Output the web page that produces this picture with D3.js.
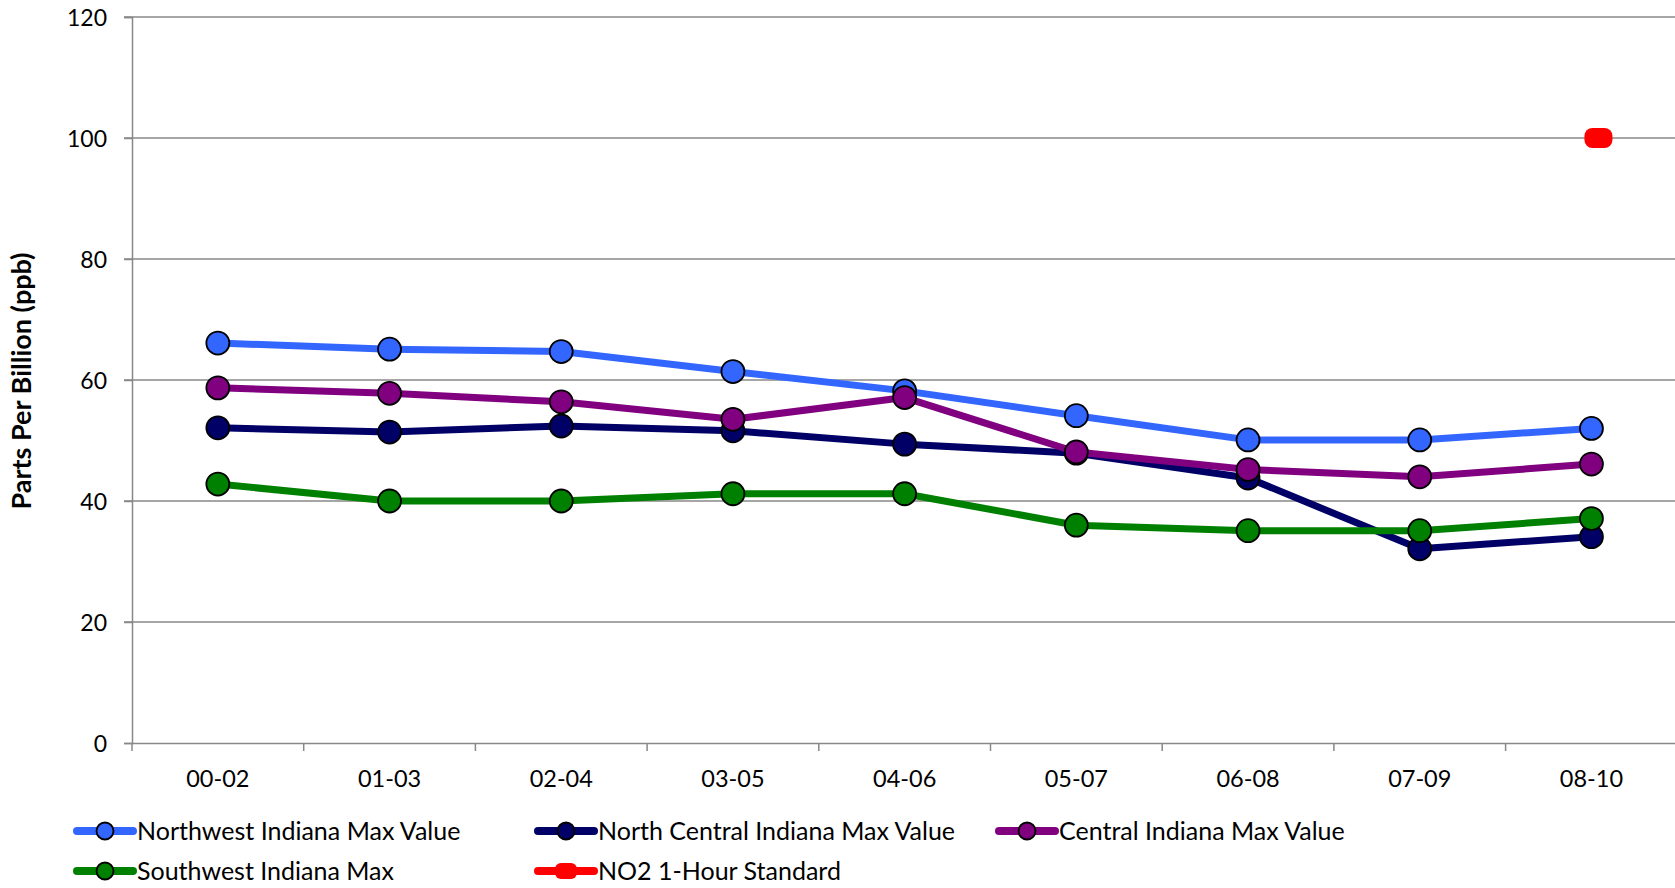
<!DOCTYPE html>
<html>
<head>
<meta charset="utf-8">
<script src="https://cdn.jsdelivr.net/npm/d3@7"></script>
<style>
  html, body { margin: 0; padding: 0; background: #fff; }
  svg { display: block; }
  text { font-family: Lato, "Liberation Sans", sans-serif; fill: #000; }
</style>
</head>
<body>
<svg id="chart" width="1675" height="888"></svg>
<script>
// ---- data ----
const categories = ["00-02", "01-03", "02-04", "03-05", "04-06", "05-07", "06-08", "07-09", "08-10"];
const northwest = [66.1, 65.1, 64.7, 61.4, 58.2, 54.1, 50.1, 50.1, 52.0];
const northCentral = [52.1, 51.4, 52.4, 51.6, 49.4, 47.9, 43.8, 32.1, 34.1];
const central = [58.7, 57.8, 56.4, 53.5, 57.1, 48.1, 45.2, 44.0, 46.1];
const southwest = [42.8, 40.0, 40.0, 41.2, 41.2, 36.0, 35.1, 35.1, 37.1];
const no2Standard = [null, null, null, null, null, null, null, null, 100];
const yTicks = [0, 20, 40, 60, 80, 100, 120];
const seriesNames = ["Northwest Indiana Max Value", "North Central Indiana Max Value", "Central Indiana Max Value", "Southwest Indiana Max", "NO2 1-Hour Standard"];
const yTitle = "Parts Per Billion (ppb)";

const seriesList = [
  { name: seriesNames[0], values: northwest, color: "#3366FF", marker: "circle" },
  { name: seriesNames[1], values: northCentral, color: "#000066", marker: "circle" },
  { name: seriesNames[2], values: central, color: "#800080", marker: "circle" },
  { name: seriesNames[3], values: southwest, color: "#008000", marker: "circle" },
  { name: seriesNames[4], values: no2Standard, color: "#FF0000", marker: "dash" }
];

// ---- layout ----
const svg = d3.select("#chart");
const plotLeft = 132, plotTop = 17, plotBottom = 743, step = 171.7;
const x = d3.scaleBand().domain(categories).range([plotLeft, plotLeft + step * categories.length]).padding(0);
const y = d3.scaleLinear().domain([0, 120]).range([plotBottom, plotTop]);
const cx = c => x(c) + x.bandwidth() / 2;
const gridColor = "#888888";

// gridlines
const gGrid = svg.append("g");
gGrid.selectAll("line").data(yTicks.filter(t => t > 0)).join("line")
  .attr("x1", plotLeft - 8).attr("x2", 1675)
  .attr("y1", d => y(d)).attr("y2", d => y(d))
  .attr("stroke", gridColor).attr("stroke-width", 1.5);

// y axis
const yAxis = d3.axisLeft(y).tickValues(yTicks).tickSize(8).tickPadding(17).tickFormat(d3.format("d"));
const gy = svg.append("g").attr("transform", `translate(${plotLeft},0)`).call(yAxis);
gy.select(".domain").attr("stroke", gridColor).attr("stroke-width", 1.5);
gy.selectAll(".tick line").attr("stroke", gridColor).attr("stroke-width", 1.5);
gy.selectAll(".tick text").style("font-size", "23px").style("font-family", "Lato, sans-serif").attr("dy", "0.35em");

// x axis
const xAxis = d3.axisBottom(x).tickSize(0).tickPadding(27);
const gx = svg.append("g").attr("transform", `translate(0,${plotBottom})`).call(xAxis);
gx.select(".domain").attr("stroke", gridColor).attr("stroke-width", 1.5).attr("d", `M${plotLeft},0.5H1675`);
gx.selectAll(".tick text").style("font-size", "23.5px").style("font-family", "Lato, sans-serif");
// band boundary tick marks
svg.append("g").selectAll("line")
  .data(categories.map(c => x(c)))
  .join("line")
  .attr("x1", d => d).attr("x2", d => d)
  .attr("y1", plotBottom).attr("y2", plotBottom + 8)
  .attr("stroke", gridColor).attr("stroke-width", 1.5);

// y title
svg.append("text")
  .attr("transform", `translate(31,${(plotTop + plotBottom) / 2 + 1}) rotate(-90)`)
  .attr("text-anchor", "middle")
  .style("font-size", "27px").style("font-weight", "bold")
  .text(yTitle);

// series
const line = d3.line()
  .defined(d => d.v !== null)
  .x(d => cx(d.c)).y(d => y(d.v));

seriesList.forEach(s => {
  const pts = categories.map((c, i) => ({ c, v: s.values[i] }));
  const g = svg.append("g");
  g.append("path").datum(pts)
    .attr("d", line).attr("fill", "none")
    .attr("stroke", s.color).attr("stroke-width", 7).attr("stroke-linejoin", "round");
  const valid = pts.filter(d => d.v !== null);
  if (s.marker === "circle") {
    g.selectAll("circle").data(valid).join("circle")
      .attr("cx", d => cx(d.c)).attr("cy", d => y(d.v)).attr("r", 11.5)
      .attr("fill", s.color).attr("stroke", "#000").attr("stroke-width", 1.8);
  } else {
    g.selectAll("rect").data(valid).join("rect")
      .attr("x", d => cx(d.c) - 7).attr("y", d => y(d.v) - 10)
      .attr("width", 28).attr("height", 20).attr("rx", 8)
      .attr("fill", s.color);
  }
});

// legend
const legendPos = [
  { x: 77, y: 831 }, { x: 538, y: 831 }, { x: 999, y: 831 },
  { x: 77, y: 871 }, { x: 538, y: 871 }
];
seriesList.forEach((s, i) => {
  const p = legendPos[i];
  const g = svg.append("g").attr("transform", `translate(${p.x},${p.y})`);
  g.append("line").attr("x1", 0).attr("x2", 56).attr("y1", 0).attr("y2", 0)
    .attr("stroke", s.color).attr("stroke-width", 8).attr("stroke-linecap", "round");
  if (s.marker === "circle") {
    g.append("circle").attr("cx", 28).attr("cy", 0).attr("r", 8.5)
      .attr("fill", s.color).attr("stroke", "#000").attr("stroke-width", 1.8);
  } else {
    g.append("rect").attr("x", 17).attr("y", -8).attr("width", 22).attr("height", 16).attr("rx", 6)
      .attr("fill", s.color);
  }
  g.append("text").attr("x", 60).attr("y", 0).attr("dy", "0.35em")
    .style("font-size", "25px").text(s.name);
});
</script>
</body>
</html>
